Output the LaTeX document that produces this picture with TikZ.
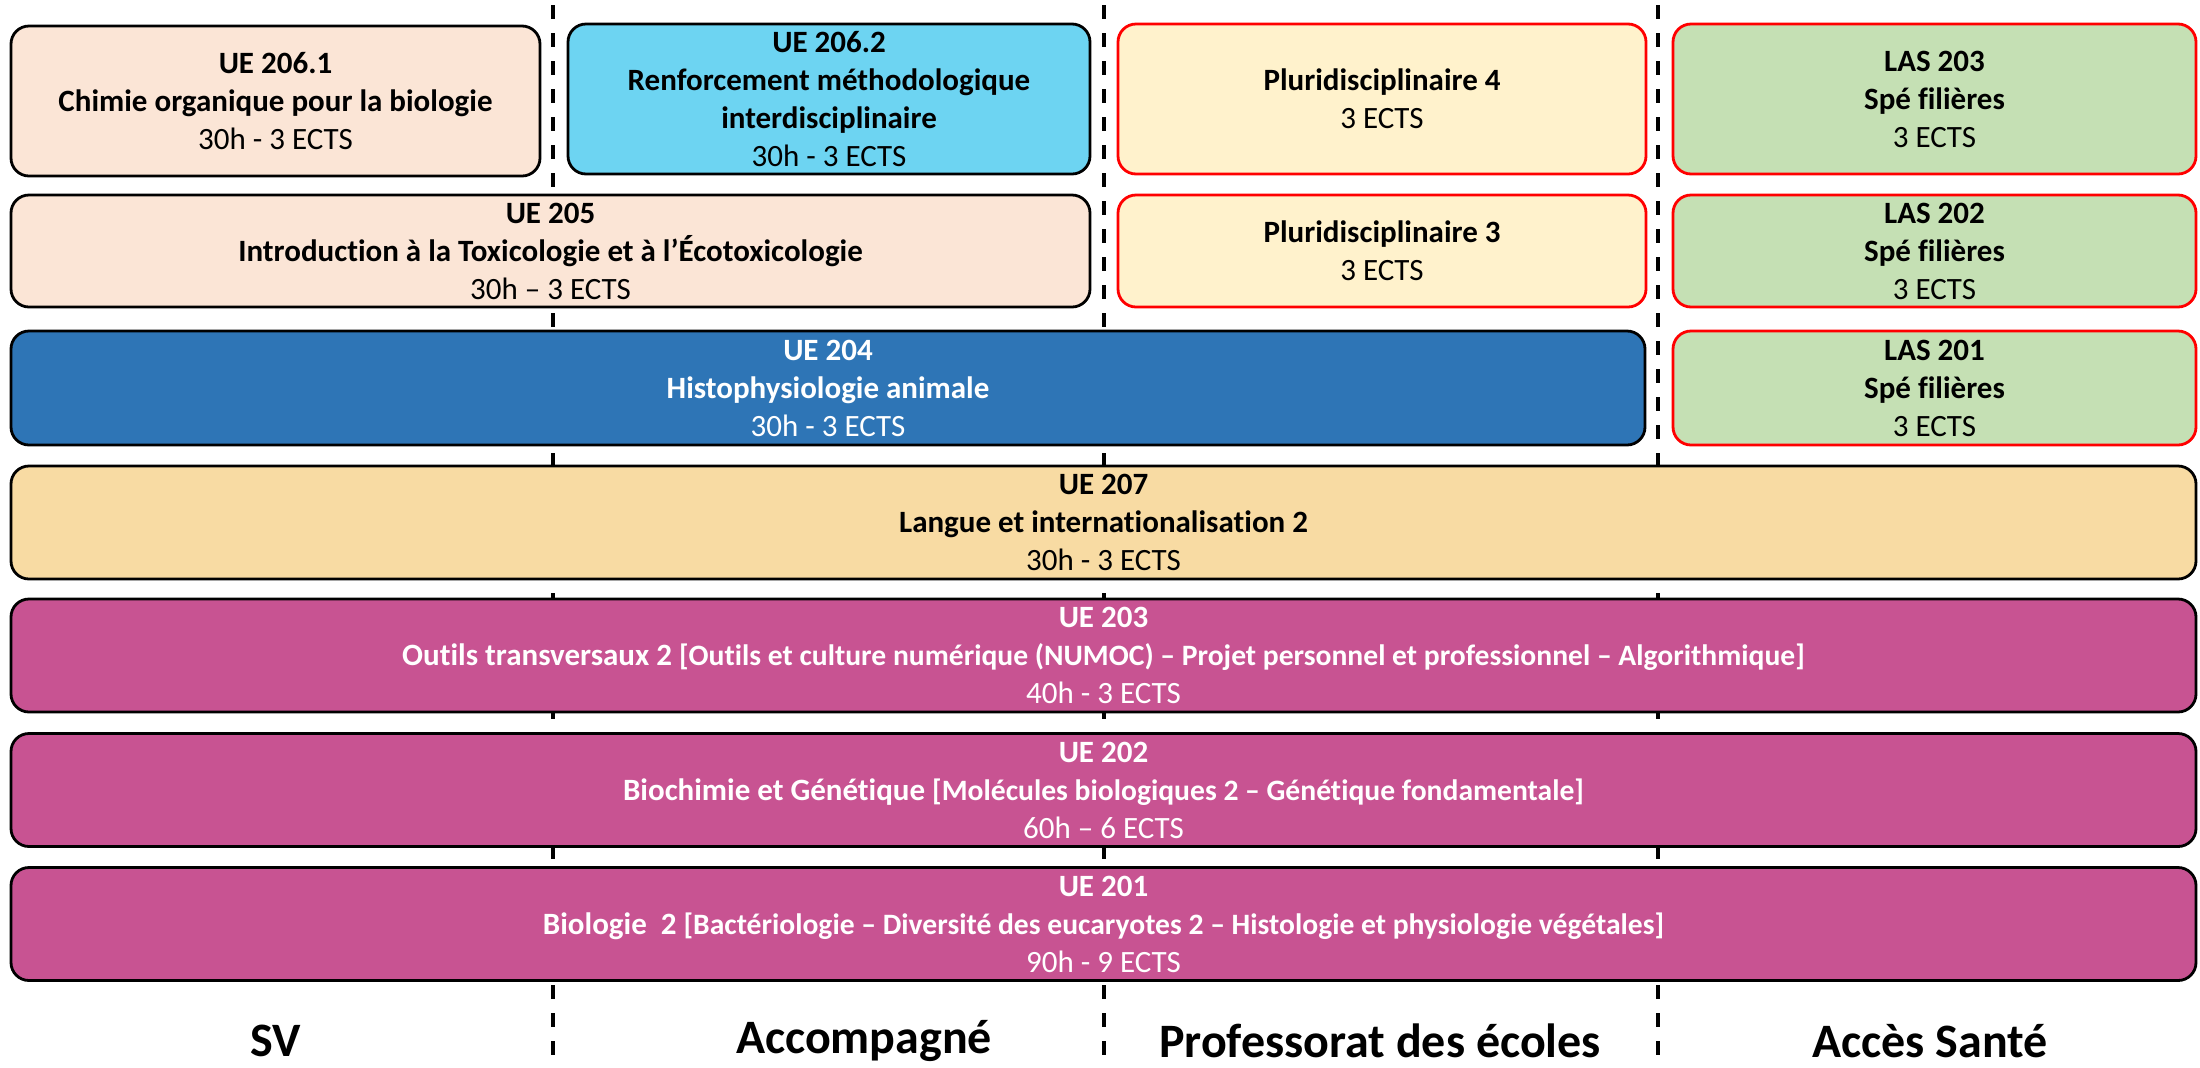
\documentclass[tikz,border=0pt]{standalone}
\usepackage{fontspec}
\setmainfont{Carlito}[Ligatures=NoCommon]
\usepackage{xcolor}
\usepackage{tikz}
\usetikzlibrary{positioning}

\definecolor{peach}{HTML}{FBE5D6}
\definecolor{sky}{HTML}{6DD4F2}
\definecolor{cream}{HTML}{FFF2CC}
\definecolor{sage}{HTML}{C5E0B4}
\definecolor{steel}{HTML}{2E75B6}
\definecolor{sand}{HTML}{F8DBA3}
\definecolor{plum}{HTML}{C85392}

\tikzset{
  ue/.style={draw=black, line width=1.4pt, rounded corners=9pt, align=center,
    inner sep=0pt, font=\fontsize{15.5}{19}\selectfont},
  opt/.style={ue, draw=red},
  wide/.style={ue, minimum width=1092.5pt, minimum height=56.5pt},
  track/.style={font=\fontsize{24}{28}\selectfont\bfseries},
  sep/.style={line width=2pt, dash pattern=on 7pt off 7pt}
}
\newcommand{\subue}{\fontsize{14.8}{19}\selectfont}

\begin{document}
\begin{tikzpicture}[x=0.5pt, y=-0.5pt]
\useasboundingbox (0,0) rectangle (2200,1067);

% column separators
\draw[sep] (553,5) -- (553,1062);
\draw[sep] (1104,5) -- (1104,1062);
\draw[sep] (1658,5) -- (1658,1062);

% Row 1
\node[ue, fill=peach, minimum width=264.5pt, minimum height=75pt] (ue2061) at (275.5,101)
  {\textbf{UE 206.1}\\\textbf{Chimie organique pour la biologie}\\30h - 3 ECTS};
\node[ue, fill=sky, minimum width=261pt, minimum height=75pt] (ue2062) at (829,99)
  {\textbf{UE 206.2}\\\textbf{Renforcement méthodologique}\\\textbf{interdisciplinaire}\\30h - 3 ECTS};
\node[opt, fill=cream, minimum width=264pt, minimum height=75pt] (pluri4) at (1382,99)
  {\textbf{Pluridisciplinaire 4}\\3 ECTS};
\node[opt, fill=sage, minimum width=261.5pt, minimum height=75pt] (las203) at (1934.5,99)
  {\textbf{LAS 203}\\\textbf{Spé filières}\\3 ECTS};

% Row 2
\node[ue, fill=peach, minimum width=539.5pt, minimum height=56pt] (ue205) at (550.5,251)
  {\textbf{UE 205}\\\textbf{Introduction à la Toxicologie et à l’Écotoxicologie}\\30h – 3 ECTS};
\node[opt, fill=cream, minimum width=264pt, minimum height=56pt] (pluri3) at (1382,251)
  {\textbf{Pluridisciplinaire 3}\\3 ECTS};
\node[opt, fill=sage, minimum width=261.5pt, minimum height=56pt] (las202) at (1934.5,251)
  {\textbf{LAS 202}\\\textbf{Spé filières}\\3 ECTS};

% Row 3
\node[ue, fill=steel, text=white, minimum width=817pt, minimum height=57pt] (ue204) at (828,388)
  {\textbf{UE 204}\\\textbf{Histophysiologie animale}\\30h - 3 ECTS};
\node[opt, fill=sage, minimum width=261.5pt, minimum height=57pt] (las201) at (1934.5,388)
  {\textbf{LAS 201}\\\textbf{Spé filières}\\3 ECTS};

% common units
\node[wide, fill=sand] (ue207) at (1103.5,522.5)
  {\textbf{UE 207}\\\textbf{Langue et internationalisation 2}\\30h - 3 ECTS};
\node[wide, fill=plum, text=white] (ue203) at (1103.5,655.5)
  {\textbf{UE 203}\\\textbf{Outils transversaux 2 {\subue[Outils et culture numérique (NUMOC) – Projet personnel et professionnel – Algorithmique]}}\\40h - 3 ECTS};
\node[wide, fill=plum, text=white] (ue202) at (1103.5,790)
  {\textbf{UE 202}\\\textbf{Biochimie et Génétique {\subue[Molécules biologiques 2 – Génétique fondamentale]}}\\60h – 6 ECTS};
\node[wide, fill=plum, text=white] (ue201) at (1103.5,924)
  {\textbf{UE 201}\\\textbf{Biologie\ \ 2 {\subue[Bactériologie – Diversité des eucaryotes 2 – Histologie et physiologie végétales]}}\\90h - 9 ECTS};

% track names
\node[track] (sv) at (276,1041) {SV};
\node[track] (acc) at (864,1041) {Accompagné};
\node[track] (pe) at (1380,1041) {Professorat des écoles};
\node[track] (sante) at (1930,1041) {Accès Santé};
\end{tikzpicture}
\end{document}
